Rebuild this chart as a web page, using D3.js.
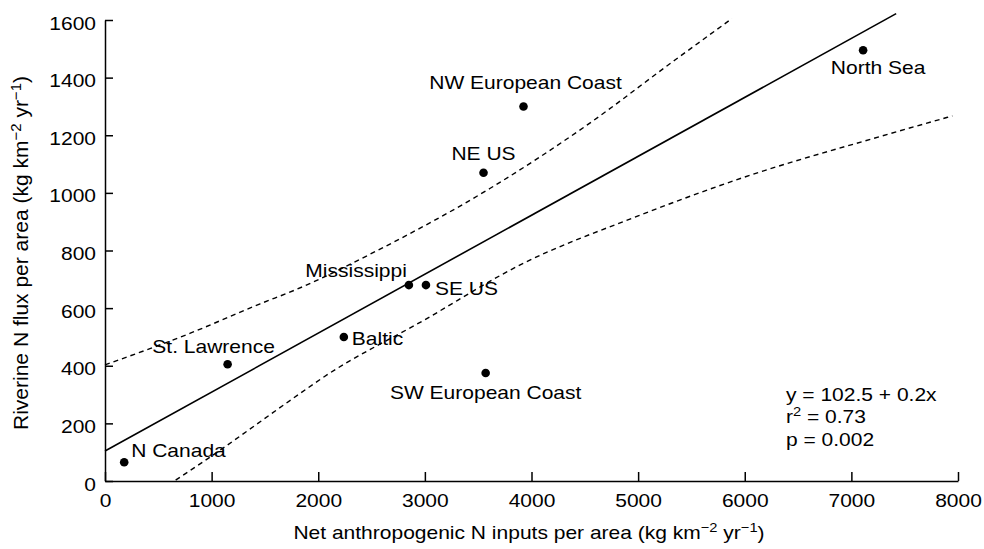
<!DOCTYPE html>
<html><head><meta charset="utf-8">
<script src="https://cdn.jsdelivr.net/npm/d3@7/dist/d3.min.js"></script>
<style>body{margin:0;background:#fff}svg{display:block}</style>
</head><body><svg id="chart" width="984" height="549"></svg>
<script>
// ---- data ----
const regions = ["N Canada","St. Lawrence","Baltic","Mississippi","SE US","SW European Coast","NE US","NW European Coast","North Sea"];
const nInputs = [180, 1150, 2240, 2850, 3010, 3570, 3550, 3925, 7110];
const nFlux   = [65, 405, 500, 680, 680, 375, 1070, 1300, 1495];
const xTicks = [0,1000,2000,3000,4000,5000,6000,7000,8000];
const yTicks = [0,200,400,600,800,1000,1200,1400,1600];
const fitX = [0, 7420];
const fitY = [104, 1622];
const upperX = [0, 800, 1455, 1783, 2565, 3613, 4500, 5349, 5880];
const upperY = [403, 513, 615, 663, 802, 1016, 1230, 1462, 1605];
const lowerX = [663, 922, 1830, 2032, 3000, 3894, 5000, 6000, 7273, 7947];
const lowerY = [3, 67, 304, 356, 560, 750, 920, 1055, 1196, 1267];
const statLines = [["y = 102.5 + 0.2x"], ["r", "2", " = 0.73"], ["p = 0.002"]];
const xTitle = ["Net anthropogenic N inputs per area (kg km", "−2", " yr", "−1", ")"];
const yTitle = ["Riverine N flux per area (kg km", "−2", " yr", "−1", ")"];

// ---- layout ----
const labelPos = [ // dx, dy, anchor
  [7,-5,"start"],[-14,-11,"middle"],[8,8,"start"],[-2,-8,"end"],[9,10,"start"],
  [0,26,"middle"],[0,-13,"middle"],[2,-17,"middle"],[15,24,"middle"]];
const SX = 1.13, FS = 18.6;
const font = "'Liberation Sans', Arial, Helvetica, sans-serif";

const svg = d3.select("#chart").style("font-family", font);
const x = d3.scaleLinear().domain([0, 8000]).range([105, 958]);
const y = d3.scaleLinear().domain([0, 1600]).range([481, 20]);

function stretched(sel, tx, ty, anchor) {
  return sel.append("text")
    .attr("transform", `translate(${tx},${ty}) scale(${SX},1)`)
    .attr("text-anchor", anchor).attr("font-size", FS).attr("fill", "#000");
}
function addSupParts(t, parts, sup) {
  parts.forEach((p, i) => {
    const isSup = i % 2 === 1;
    t.append("tspan").text(p)
      .attr("font-size", isSup ? sup : null)
      .attr("dy", isSup ? -7 : (i > 0 ? 7 : 0));
  });
}

// axes
const xAxis = d3.axisBottom(x).tickValues(xTicks).tickSizeInner(-9).tickSizeOuter(0).tickFormat(d3.format("d"));
const yAxis = d3.axisLeft(y).tickValues(yTicks).tickSizeInner(-8).tickSizeOuter(0).tickFormat(d3.format("d"));
const gx = svg.append("g").attr("transform", `translate(0,${y(0)})`).call(xAxis);
const gy = svg.append("g").attr("transform", `translate(${x(0)},0)`).call(yAxis);
[gx, gy].forEach(g => {
  g.selectAll("path,line").attr("stroke", "#000").attr("stroke-width", 1.5);
  g.selectAll("text").attr("fill", "#000").attr("font-size", FS).attr("font-family", font);
});
gx.selectAll(".tick text").attr("y", null).attr("dy", null)
  .attr("transform", `translate(0,26) scale(${SX},1)`);
gy.selectAll(".tick text").attr("x", null).attr("dy", null)
  .attr("transform", `translate(-9,9) scale(${SX},1)`);

// lines
const line = d3.line().x(d => x(d[0])).y(d => y(d[1]));
const curve = d3.line().x(d => x(d[0])).y(d => y(d[1])).curve(d3.curveMonotoneX);
svg.append("path").attr("d", line(d3.zip(fitX, fitY)))
  .attr("fill", "none").attr("stroke", "#000").attr("stroke-width", 1.6);
svg.append("path").attr("d", curve(d3.zip(upperX, upperY)))
  .attr("fill", "none").attr("stroke", "#000").attr("stroke-width", 1.4).attr("stroke-dasharray", "5,4");
svg.append("path").attr("d", curve(d3.zip(lowerX, lowerY)))
  .attr("fill", "none").attr("stroke", "#000").attr("stroke-width", 1.4).attr("stroke-dasharray", "5,4");

// points + labels
regions.forEach((r, i) => {
  const px = x(nInputs[i]), py = y(nFlux[i]);
  svg.append("circle").attr("cx", px).attr("cy", py).attr("r", 4.3).attr("fill", "#000");
  const [dx, dy, a] = labelPos[i];
  stretched(svg, px + dx, py + dy, a).text(r);
});

// stats
statLines.forEach((parts, i) => {
  const t = stretched(svg, 786, 400.5 + i * 22.8, "start");
  if (parts.length === 1) t.text(parts[0]);
  else {
    t.append("tspan").text(parts[0]);
    t.append("tspan").text(parts[1]).attr("font-size", 13).attr("dy", -7);
    t.append("tspan").text(parts[2]).attr("dy", 7);
  }
});

// axis titles
const xt = stretched(svg, 529, 539, "middle");
addSupParts(xt, xTitle, 13);
const yt = svg.append("text").attr("transform", "translate(28,253) rotate(-90)")
  .attr("text-anchor", "middle").attr("font-size", 21).attr("fill", "#000");
addSupParts(yt, yTitle, 15);
</script></body></html>
